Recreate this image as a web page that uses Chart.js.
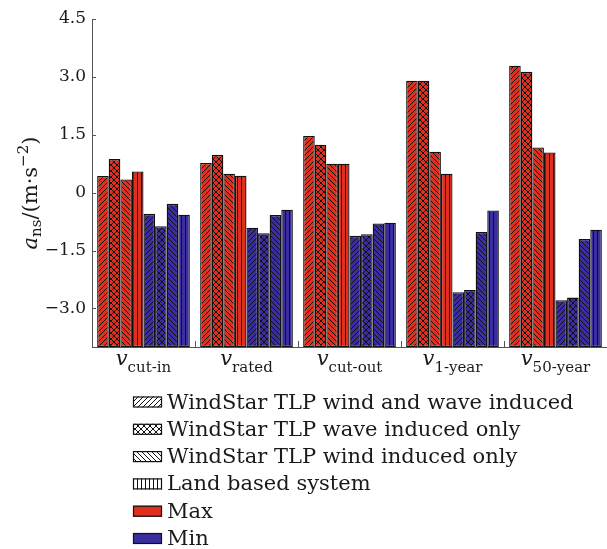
<!DOCTYPE html>
<html>
<head>
<meta charset="utf-8">
<script src="https://cdn.jsdelivr.net/npm/chart.js@4.4.1/dist/chart.umd.min.js"></script>
<style>
  html, body { margin: 0; padding: 0; background: #fff; }
</style>
</head>
<body>
<canvas id="chart" width="607" height="549"></canvas>
<script>
'use strict';

// ─── Data ─────────────────────────────────────────────────────────────────────
const CATEGORIES = ['cut-in', 'rated', 'cut-out', '1-year', '50-year'];
const SERIES = [
    'WindStar TLP wind and wave induced',
    'WindStar TLP wave induced only',
    'WindStar TLP wind induced only',
    'Land based system',
];
const HATCHES = ['/', 'x', '\\', '|'];

const MAX_WIND_WAVE = [0.43, 0.77, 1.47, 2.90, 3.29];
const MAX_WAVE      = [0.87, 0.98, 1.24, 2.90, 3.13];
const MAX_WIND      = [0.34, 0.49, 0.75, 1.06, 1.17];
const MAX_LAND      = [0.55, 0.44, 0.75, 0.49, 1.04];

const MIN_WIND_WAVE = [-0.55, -0.91, -1.12, -2.58, -2.79];
const MIN_WAVE      = [-0.87, -1.05, -1.08, -2.52, -2.72];
const MIN_WIND      = [-0.29, -0.58, -0.80, -1.02, -1.20];
const MIN_LAND      = [-0.57, -0.44, -0.78, -0.46, -0.96];

const Y_MIN = -4.0;
const Y_MAX = 4.5;
const Y_TICKS = [-3.0, -1.5, 0, 1.5, 3.0, 4.5];

// ─── Style ────────────────────────────────────────────────────────────────────
const RED = '#df2f1e';
const BLUE = '#3a2e9e';
const AXIS_COLOR = '#555';
const TEXT_COLOR = '#1a1a1a';
const SERIF = "'DejaVu Serif', 'Liberation Serif', serif";

function makePattern(bg, kind) {
    const s = kind === '|' ? 4 : (kind === 'x' ? 6 : 5);
    const c = document.createElement('canvas');
    c.width = s; c.height = s;
    const g = c.getContext('2d');
    g.fillStyle = bg;
    g.fillRect(0, 0, s, s);
    g.strokeStyle = '#111';
    g.lineWidth = 1;
    g.beginPath();
    if (kind === '|') {
        g.moveTo(1.5, 0); g.lineTo(1.5, s);
    }
    if (kind === '/' || kind === 'x') {
        g.moveTo(-1, s + 1); g.lineTo(s + 1, -1);
        g.moveTo(-1, 1); g.lineTo(1, -1);
        g.moveTo(s - 1, s + 1); g.lineTo(s + 1, s - 1);
    }
    if (kind === '\\' || kind === 'x') {
        g.moveTo(-1, -1); g.lineTo(s + 1, s + 1);
        g.moveTo(s - 1, -1); g.lineTo(s + 1, 1);
        g.moveTo(-1, s - 1); g.lineTo(1, s + 1);
    }
    g.stroke();
    return g.createPattern(c, 'repeat');
}

function font(size, italic) {
    return (italic ? 'italic ' : '') + size + 'px ' + SERIF;
}

// draw a run of text pieces [{t, size, italic, dy}] starting at x (baseline y)
function drawRich(ctx, parts, x, y) {
    let cx = x;
    parts.forEach(p => {
        ctx.font = font(p.size, p.italic);
        ctx.fillText(p.t, cx, y + (p.dy || 0));
        cx += ctx.measureText(p.t).width;
    });
}

function richWidth(ctx, parts) {
    return parts.reduce((w, p) => { ctx.font = font(p.size, p.italic); return w + ctx.measureText(p.t).width; }, 0);
}

// ─── Decorations: inward ticks, math labels, hatch legend ────────────────────
const decorPlugin = {
    id: 'decor',
    beforeDatasetsDraw(chart) {
        const { ctx, chartArea: a, scales: { x, y } } = chart;
        ctx.save();
        ctx.strokeStyle = AXIS_COLOR;
        ctx.lineWidth = 1;
        ctx.beginPath();
        Y_TICKS.forEach(v => {
            const py = Math.round(y.getPixelForValue(v)) + 0.5;
            ctx.moveTo(a.left, py); ctx.lineTo(a.left + 4, py);
        });
        for (let i = 1; i < CATEGORIES.length; i++) {
            const px = Math.round((x.getPixelForValue(i - 1) + x.getPixelForValue(i)) / 2) + 0.5;
            ctx.moveTo(px, a.bottom); ctx.lineTo(px, a.bottom - 6);
        }
        ctx.stroke();
        ctx.restore();
    },
    afterDraw(chart) {
        const { ctx, chartArea: a, scales: { x } } = chart;
        ctx.save();
        ctx.fillStyle = TEXT_COLOR;
        ctx.textAlign = 'left';
        ctx.textBaseline = 'alphabetic';

        // category labels v_sub
        CATEGORIES.forEach((cat, i) => {
            const parts = [
                { t: 'v', size: 21, italic: true },
                { t: cat, size: 15, dy: 7 },
            ];
            const w = richWidth(ctx, parts);
            drawRich(ctx, parts, x.getPixelForValue(i) - w / 2, a.bottom + 18);
        });

        // y axis title
        const title = [
            { t: 'a', size: 21, italic: true },
            { t: 'ns', size: 15, dy: 4 },
            { t: '/(m\u00b7s', size: 21 },
            { t: '\u22122', size: 15, dy: -9 },
            { t: ')', size: 21 },
        ];
        const tw = richWidth(ctx, title);
        ctx.save();
        ctx.translate(37, (a.top + a.bottom) / 2 + 10);
        ctx.rotate(-Math.PI / 2);
        drawRich(ctx, title, -tw / 2, 0);
        ctx.restore();

        // legend
        const items = SERIES.map((s, i) => ({ label: s, fill: makePattern('#fff', HATCHES[i]) }))
            .concat([{ label: 'Max', fill: RED }, { label: 'Min', fill: BLUE }]);
        const bx = 133, tx = 167, y0 = 401.5, dy = 27.3;
        items.forEach((it, i) => {
            const cy = y0 + i * dy;
            ctx.fillStyle = it.fill;
            ctx.fillRect(bx, cy - 5, 29, 11);
            ctx.strokeStyle = '#111';
            ctx.lineWidth = 1.2;
            ctx.strokeRect(bx + 0.5, cy - 4.5, 28, 10);
            ctx.fillStyle = TEXT_COLOR;
            ctx.font = font(21, false);
            ctx.fillText(it.label, tx, cy + 7);
        });
        ctx.restore();
    }
};

// ─── Chart ────────────────────────────────────────────────────────────────────
const maxSets = [MAX_WIND_WAVE, MAX_WAVE, MAX_WIND, MAX_LAND];
const minSets = [MIN_WIND_WAVE, MIN_WAVE, MIN_WIND, MIN_LAND];

const datasets = [];
maxSets.forEach((d, i) => datasets.push({
    label: SERIES[i] + ' (Max)', data: d, base: Y_MIN,
    backgroundColor: makePattern(RED, HATCHES[i]),
}));
minSets.forEach((d, i) => datasets.push({
    label: SERIES[i] + ' (Min)', data: d, base: Y_MIN,
    backgroundColor: makePattern(BLUE, HATCHES[i]),
}));
datasets.forEach(ds => Object.assign(ds, {
    borderColor: '#111', borderWidth: 1.3, borderSkipped: false,
    categoryPercentage: 0.9, barPercentage: 1.0,
}));

new Chart(document.getElementById('chart'), {
    type: 'bar',
    data: { labels: CATEGORIES, datasets },
    options: {
        responsive: false,
        animation: false,
        layout: { padding: { top: 19, right: 0, left: 0, bottom: 0 } },
        plugins: { legend: { display: false }, tooltip: { enabled: false } },
        scales: {
            x: {
                grid: { display: false },
                border: { display: true, color: AXIS_COLOR, width: 1 },
                ticks: { display: false },
                afterFit: s => { s.height = 202; },
            },
            y: {
                min: Y_MIN, max: Y_MAX,
                grid: { display: false, drawTicks: false },
                border: { display: true, color: AXIS_COLOR, width: 1 },
                afterBuildTicks: s => { s.ticks = Y_TICKS.map(v => ({ value: v })); },
                ticks: {
                    padding: 6,
                    color: TEXT_COLOR,
                    font: { family: SERIF, size: 17 },
                    callback: v => v === 0 ? '0' : v.toFixed(1).replace('-', '\u2212'),
                },
                afterFit: s => { s.width = 92; },
            },
        },
    },
    plugins: [decorPlugin],
});
</script>
</body>
</html>
